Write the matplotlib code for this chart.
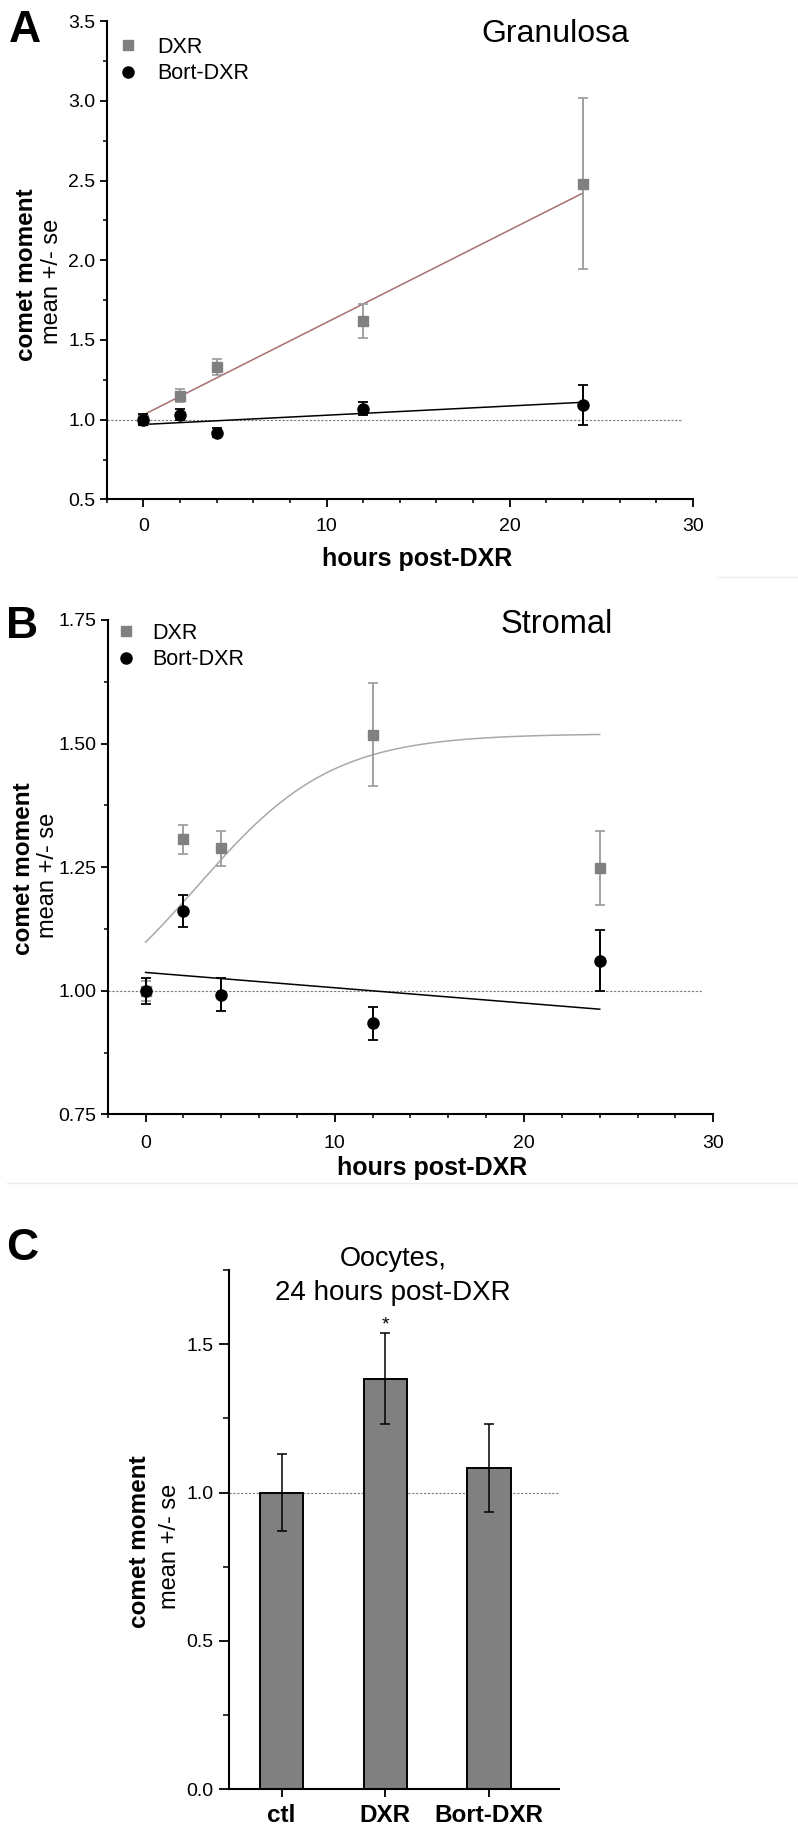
import numpy as np
import matplotlib
matplotlib.use("Agg")
import matplotlib.pyplot as plt
from matplotlib.ticker import MultipleLocator, FormatStrFormatter
from matplotlib.lines import Line2D

plt.rcParams['font.family'] = ['Liberation Sans', 'DejaVu Sans']

# ---------------- data ----------------
hours = [0, 2, 4, 12, 24]

# Panel A - Granulosa
gran_dxr = [1.00, 1.151, 1.33, 1.62, 2.48]
gran_dxr_se = [0.03, 0.04, 0.05, 0.107, 0.535]
gran_bort = [1.00, 1.03, 0.919, 1.07, 1.093]
gran_bort_se = [0.035, 0.035, 0.03, 0.04, 0.125]
gran_dxr_fit = (1.03, 0.0580)     # intercept, slope (linear fit)
gran_bort_fit = (0.97, 0.0058)

# Panel B - Stromal
strom_dxr = [1.00, 1.306, 1.288, 1.518, 1.248]
strom_dxr_se = [0.02, 0.03, 0.035, 0.104, 0.075]
strom_bort = [1.00, 1.161, 0.992, 0.934, 1.061]
strom_bort_se = [0.026, 0.033, 0.033, 0.033, 0.061]
strom_dxr_fit = (0.90, 1.52, 2.7, 0.28)   # bottom, top, x50, rate (sigmoid fit)
strom_bort_fit = (1.037, -0.0031)         # intercept, slope

# Panel C - Oocytes
groups = ['ctl', 'DXR', 'Bort-DXR']
oocyte_mean = [1.00, 1.384, 1.082]
oocyte_se = [0.13, 0.153, 0.149]

# ---------------- figure ----------------
W, H = 798, 1834
fig = plt.figure(figsize=(W / 100, H / 100), dpi=100)


def px_axes(left, top, right, bottom):
    return fig.add_axes([left / W, 1 - bottom / H, (right - left) / W, (bottom - top) / H])


def ftext(x, y, s, **kw):
    return fig.text(x / W, 1 - y / H, s, **kw)


GRAY = '#808080'
EGRAY = '#9a9a9a'
DOT = '#7a7a7a'


def style_axes(ax, xmaj_len=8, ymaj_len=7, xpad=7, ypad=3):
    for s in ['top', 'right']:
        ax.spines[s].set_visible(False)
    for s in ['left', 'bottom']:
        ax.spines[s].set_linewidth(1.5)
    ax.tick_params(axis='both', which='major', direction='out', width=1.3, labelsize=14)
    ax.tick_params(axis='x', which='major', length=xmaj_len * 0.72, pad=xpad)
    ax.tick_params(axis='y', which='major', length=ymaj_len * 0.72, pad=ypad)
    ax.tick_params(axis='both', which='minor', direction='out', width=1.1, length=3.0)


def time_panel(ax, dxr, dxr_se, bort, bort_se, dxr_curve, bort_curve, dxr_fit_color):
    xs = np.linspace(0, 24, 300)
    ax.hlines(1.0, -2, 29.4, colors=DOT, linestyles=(0, (2, 1.5)), linewidth=0.8, zorder=1)
    ax.plot(xs, dxr_curve(xs), color=dxr_fit_color, lw=1.1, zorder=2)
    ax.plot(xs, bort_curve(xs), color='black', lw=1.1, zorder=2)
    ax.errorbar(hours, dxr, yerr=dxr_se, fmt='none', ecolor=EGRAY, elinewidth=1.3,
                capsize=3.4, capthick=1.2, zorder=3)
    ax.plot(hours, dxr, 's', color=GRAY, ms=6.7, mec=GRAY, zorder=4, label='DXR')
    ax.errorbar(hours, bort, yerr=bort_se, fmt='none', ecolor='black', elinewidth=1.4,
                capsize=3.4, capthick=1.3, zorder=5)
    ax.plot(hours, bort, 'o', color='black', ms=8, zorder=6, label='Bort-DXR')
    ax.set_xlim(-2, 30)
    ax.xaxis.set_major_locator(MultipleLocator(10))
    ax.xaxis.set_minor_locator(MultipleLocator(2))


# ---------- Panel A ----------
axA = px_axes(106.7, 21.1, 693, 499.4)
time_panel(axA, gran_dxr, gran_dxr_se, gran_bort, gran_bort_se,
           lambda x: gran_dxr_fit[0] + gran_dxr_fit[1] * x,
           lambda x: gran_bort_fit[0] + gran_bort_fit[1] * x,
           '#a87070')
axA.set_ylim(0.5, 3.5)
axA.yaxis.set_major_locator(MultipleLocator(0.5))
axA.yaxis.set_minor_locator(MultipleLocator(0.25))
axA.yaxis.set_major_formatter(FormatStrFormatter('%.1f'))
style_axes(axA, xpad=7.5)
axA.legend(loc='upper left', bbox_to_anchor=(117 / W, 1 - 37 / H), bbox_transform=fig.transFigure,
           frameon=False, fontsize=15.5, handlelength=1.0, handletextpad=0.85,
           borderpad=0, borderaxespad=0, labelspacing=0.25)
ftext(555, 42.5, 'Granulosa', ha='center', va='baseline', fontsize=23)
ftext(417, 566, 'hours post-DXR', ha='center', va='baseline', fontsize=18, fontweight='bold')
ftext(26.5, 274.7, 'comet moment', rotation=90, ha='center', va='center', fontsize=17.5, fontweight='bold')
ftext(52.5, 281, 'mean +/- se', rotation=90, ha='center', va='center', fontsize=17)
ftext(25, 42.5, 'A', ha='center', va='baseline', fontsize=32, fontweight='bold')

# ---------- Panel B ----------
def sigmoid(x, p=strom_dxr_fit):
    b, t, x50, k = p
    return b + (t - b) / (1 + np.exp(-(x - x50) * k))


axB = px_axes(107.7, 620, 713.3, 1114.3)
time_panel(axB, strom_dxr, strom_dxr_se, strom_bort, strom_bort_se,
           sigmoid,
           lambda x: strom_bort_fit[0] + strom_bort_fit[1] * x,
           '#a8a8a8')
axB.set_ylim(0.75, 1.75)
axB.yaxis.set_major_locator(MultipleLocator(0.25))
axB.yaxis.set_minor_locator(MultipleLocator(0.125))
axB.yaxis.set_major_formatter(FormatStrFormatter('%.2f'))
style_axes(axB, xpad=9)
axB.legend(loc='upper left', bbox_to_anchor=(115.3 / W, 1 - 623 / H), bbox_transform=fig.transFigure,
           frameon=False, fontsize=15.5, handlelength=1.0, handletextpad=0.7,
           borderpad=0, borderaxespad=0, labelspacing=0.25)
ftext(556.7, 633.2, 'Stromal', ha='center', va='baseline', fontsize=23.5)
ftext(431.7, 1175, 'hours post-DXR', ha='center', va='baseline', fontsize=18, fontweight='bold')
ftext(23.5, 869, 'comet moment', rotation=90, ha='center', va='center', fontsize=17.5, fontweight='bold')
ftext(48.5, 875.7, 'mean +/- se', rotation=90, ha='center', va='center', fontsize=17)
ftext(22.5, 637.7, 'B', ha='center', va='baseline', fontsize=32, fontweight='bold')

# ---------- Panel C ----------
axC = px_axes(229, 1270, 559.3, 1789.2)
xpos = np.arange(len(groups))
axC.axhline(1.0, color=DOT, linestyle=(0, (2, 1.5)), linewidth=0.8, zorder=1)
axC.bar(xpos, oocyte_mean, width=0.415, color=GRAY, edgecolor='black', linewidth=1.4, zorder=2)
axC.errorbar(xpos, oocyte_mean, yerr=oocyte_se, fmt='none', ecolor='black', elinewidth=1.1,
             capsize=3.8, capthick=1.1, zorder=3)
axC.text(xpos[1], oocyte_mean[1] + oocyte_se[1], '*', ha='center', va='bottom', fontsize=14,
         transform=axC.transData)
axC.set_xlim(-0.508, 2.678)
axC.set_ylim(0, 1.75)
axC.set_xticks(xpos)
axC.set_xticklabels(groups, fontweight='bold', fontsize=17.5)
axC.yaxis.set_major_locator(MultipleLocator(0.5))
axC.yaxis.set_minor_locator(MultipleLocator(0.25))
axC.yaxis.set_major_formatter(FormatStrFormatter('%.1f'))
style_axes(axC, xmaj_len=8.3, ymaj_len=9.7, xpad=4.8, ypad=4.3)
axC.tick_params(axis='y', which='minor', length=4.0)
axC.tick_params(axis='x', labelsize=17.5)
ftext(393.3, 1265.6, 'Oocytes,', ha='center', va='baseline', fontsize=19.5)
ftext(393.3, 1300.5, '24 hours post-DXR', ha='center', va='baseline', fontsize=20)
ftext(140, 1542, 'comet moment', rotation=90, ha='center', va='center', fontsize=17.5, fontweight='bold')
ftext(170.5, 1546, 'mean +/- se', rotation=90, ha='center', va='center', fontsize=17)
ftext(21.7, 1260.5, 'C', ha='center', va='baseline', fontsize=32, fontweight='bold')

# faint panel separators of the composite image
fig.add_artist(Line2D([7 / W, 1.0], [1 - 1183 / H, 1 - 1183 / H], transform=fig.transFigure,
                      color='#ebebeb', lw=1.0))
fig.add_artist(Line2D([717 / W, 1.0], [1 - 577 / H, 1 - 577 / H], transform=fig.transFigure,
                      color='#ebebeb', lw=1.0))

fig.savefig('out.png', dpi=100)
